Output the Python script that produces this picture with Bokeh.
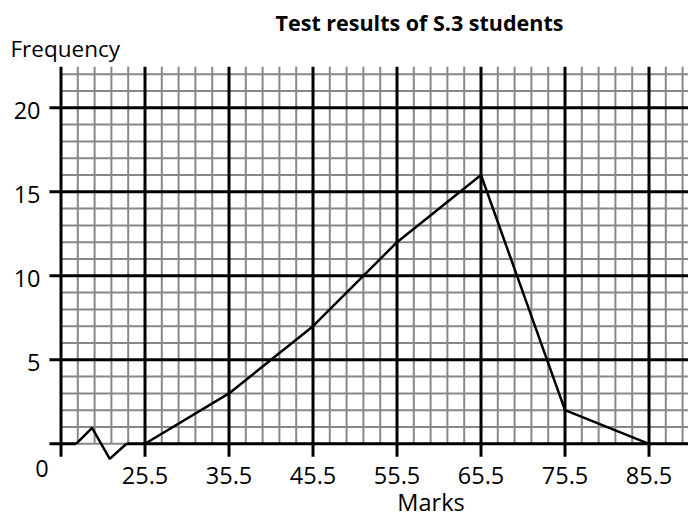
from bokeh.plotting import figure
from bokeh.models import Range1d
from bokeh.core.properties import value
from bokeh.embed import file_html
from bokeh.resources import INLINE

# ---- data ----
marks = [25.5, 35.5, 45.5, 55.5, 65.5, 75.5, 85.5]
frequency = [0, 3, 7, 12, 16, 2, 0]
x_tick_labels = ["25.5", "35.5", "45.5", "55.5", "65.5", "75.5", "85.5"]
y_ticks = [5, 10, 15, 20]
y_tick_labels = ["5", "10", "15", "20"]
break_x = [17.3, 19.2, 21.3, 23.3]
break_y = [0, 0.95, -0.9, 0]
title_text = "Test results of S.3 students"
x_title = "Marks"
y_title = "Frequency"

# ---- layout ----
W, H = 688, 518
X0 = 15.5 - 60.5 / 8.4
X1 = X0 + W / 8.4
Y1 = 443.3 / 16.8
Y0 = Y1 - H / 16.8
SX = W / (X1 - X0)
SY = H / (Y1 - Y0)


def dx(px):
    return px / SX


def dy(px):
    return px / SY


XO = 15.5      # origin of the broken x axis
YTOP = 22.45   # top of the grid paper
BL = 9.5       # baseline correction (px) for svg text

FONT = "Open Sans"
GRAY = "#878787"

p = figure(width=W, height=H, x_range=Range1d(X0, X1), y_range=Range1d(Y0, Y1),
           output_backend="svg", toolbar_location=None,
           x_axis_type=None, y_axis_type=None, min_border=0)
p.outline_line_color = None
p.background_fill_color = "white"
p.border_fill_color = "white"

# minor vertical grid (every 2 marks)
mv = []
v = XO + 2
while v < X1 + 2:
    if abs(((v - XO) % 10)) > 1e-6:
        mv.append(v)
    v += 2
p.segment(x0=mv, y0=[0] * len(mv), x1=mv, y1=[YTOP] * len(mv),
          line_color=GRAY, line_width=2)

# minor horizontal grid (every 1 unit)
mh = [k for k in range(0, 23) if k % 5 != 0 or k == 0]
p.segment(x0=[XO] * len(mh), y0=mh, x1=[X1] * len(mh), y1=mh,
          line_color=GRAY, line_width=2)

# major vertical lines (with tick stubs below axis)
majv = [XO] + marks
p.segment(x0=majv, y0=[-dy(13)] * len(majv), x1=majv, y1=[YTOP] * len(majv),
          line_color="black", line_width=3)

# major horizontal lines (with tick stubs left of axis)
p.segment(x0=[XO - dx(11.5)] * len(y_ticks), y0=y_ticks,
          x1=[X1] * len(y_ticks), y1=y_ticks, line_color="black", line_width=3)

# x axis with break
p.segment(x0=[XO - dx(11.5), break_x[-1]], y0=[0, 0],
          x1=[break_x[0], X1], y1=[0, 0], line_color="black", line_width=3)
p.line(break_x, break_y, line_color="black", line_width=2.5)

# frequency polygon
p.line(marks, frequency, line_color="black", line_width=2.5)

# tick labels
p.text(x=marks, y=[-dy(40.7 - BL)] * len(marks), text=x_tick_labels,
       text_font=value(FONT), text_font_size="23.5px", text_align="center",
       text_baseline="alphabetic", text_color="black")
p.text(x=[XO - dx(20.5)] * len(y_ticks), y=[t - dy(12 - BL) for t in y_ticks],
       text=y_tick_labels, text_font=value(FONT), text_font_size="23.5px",
       text_align="right", text_baseline="alphabetic", text_color="black")
p.text(x=[XO - dx(19)], y=[-dy(33.7 - BL)], text=["0"], text_font=value(FONT),
       text_font_size="23.5px", text_align="center", text_baseline="alphabetic",
       text_color="black")

# titles
p.text(x=[XO - dx(50.5)], y=[YTOP + dy(9 + BL)], text=[y_title],
       text_font=value(FONT), text_font_size="22.5px", text_align="left",
       text_baseline="alphabetic", text_color="black")
p.text(x=[XO + dx(370)], y=[-dy(67.5 - BL)], text=[x_title],
       text_font=value(FONT), text_font_size="23.5px", text_align="center",
       text_baseline="alphabetic", text_color="black")
p.text(x=[XO + dx(358.5)], y=[YTOP + dy(35 + BL)], text=[title_text],
       text_font=value(FONT), text_font_size="21.5px", text_font_style="bold",
       text_align="center", text_baseline="alphabetic", text_color="black")

open("out.html", "w").write(file_html(p, INLINE))
